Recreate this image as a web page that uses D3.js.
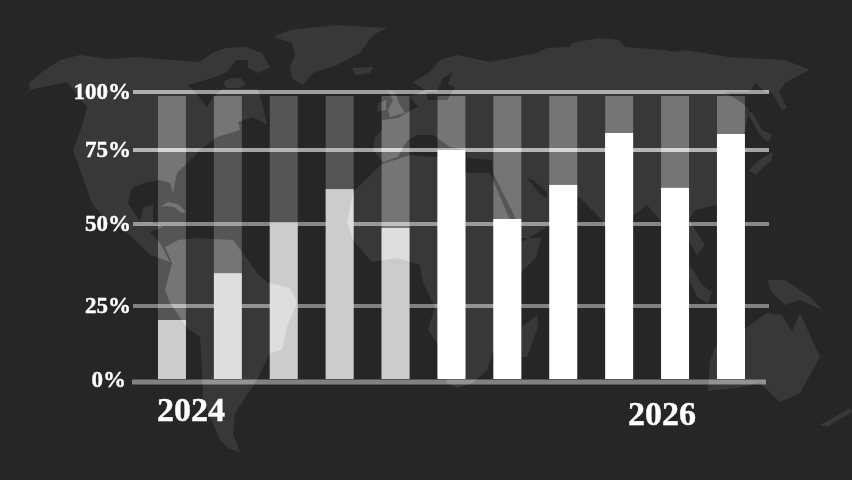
<!DOCTYPE html>
<html><head><meta charset="utf-8">
<script src="https://cdn.jsdelivr.net/npm/d3@7"></script>
<style>html,body{margin:0;background:#262626}svg{display:block}</style></head>
<body><svg id="c" width="852" height="480"></svg>
<script>
const categories = ["P1","P2","P3","P4","P5","P6","P7","P8","P9","P10","P11"];
const values = [20.4,35,50.5,61.8,48.8,75,51.7,63.2,82.3,62.2,81.9];
const tickValues = [0,25,50,75,100];
const yearLabels = ["2024","2026"];

// decorative world map backdrop
const northAmerica = [[22,98],[30,90],[29,83],[42,72],[60,60],[80,55],[110,59],[135,57],[170,60],[200,62],[212,53],[225,48],[245,47],[262,53],[270,67],[258,73],[248,68],[248,60],[236,60],[227,72],[213,78],[188,85],[196,93],[207,107],[213,97],[222,89],[258,89],[263,107],[267,125],[253,117],[238,122],[240,130],[217,137],[200,150],[177,173],[173,193],[170,183],[160,180],[147,182],[132,188],[128,203],[140,222],[143,207],[153,205],[153,223],[163,227],[150,232],[160,243],[170,262],[150,255],[130,235],[113,223],[100,213],[92,203],[80,170],[73,150],[83,123],[87,107],[67,82],[29,90]];
const southampton = [[223,82],[230,78],[240,78],[246,84],[240,88],[226,88]];
const cuba = [[160,207],[168,202],[178,204],[186,212],[182,213],[174,207],[166,206]];
const southAmerica = [[172,263],[165,247],[178,240],[197,238],[233,240],[248,260],[257,273],[267,282],[290,288],[297,302],[287,327],[282,350],[270,353],[257,380],[235,413],[233,433],[240,453],[228,448],[220,440],[210,417],[203,397],[202,373],[200,337],[187,328],[170,303],[165,290]];
const greenland = [[273,37],[290,30],[337,25],[387,28],[373,35],[360,53],[337,65],[313,73],[303,85],[292,78],[290,67],[295,55],[292,43]];
const iceland = [[352,68],[373,67],[370,73],[355,75]];
const britain = [[387,90],[395,92],[399,103],[405,113],[390,117],[388,110],[393,100]];
const ireland = [[378,103],[386,100],[386,110],[377,112]];
const eurasia = [[413,82],[430,72],[440,60],[457,55],[490,62],[537,53],[547,48],[570,47],[572,43],[599,38],[619,40],[625,47],[665,50],[675,52],[685,50],[729,57],[785,60],[810,70],[799,75],[785,83],[779,92],[787,108],[782,110],[772,93],[765,92],[755,83],[750,92],[725,92],[745,105],[749,110],[745,130],[735,170],[717,205],[695,210],[689,220],[705,245],[697,255],[685,235],[672,222],[660,220],[647,205],[632,217],[617,250],[602,220],[577,195],[560,215],[547,227],[522,242],[515,217],[493,173],[492,160],[467,158],[467,150],[450,147],[433,135],[417,135],[408,140],[403,147],[398,157],[383,162],[373,150],[375,137],[382,130],[382,120],[398,118],[408,112],[418,107],[410,97],[425,90]];
const baltic = [[426,92],[437,92],[443,78],[453,72],[448,84],[455,88],[447,100],[428,100]];
const persianGulf = [[527,178],[533,180],[547,192],[547,198],[540,194]];
const africa = [[382,164],[398,159],[410,155],[437,157],[467,173],[490,173],[510,220],[521,238],[541,238],[536,258],[521,272],[493,353],[487,370],[473,383],[457,388],[447,383],[440,347],[428,330],[435,307],[423,283],[420,265],[397,258],[372,262],[353,240],[347,223],[353,192]];
const madagascar = [[522,327],[537,315],[538,327],[527,357],[522,357]];
const malaya = [[686,262],[693,270],[702,285],[712,292],[708,303],[697,297],[690,282]];
const newGuinea = [[768,280],[785,280],[810,297],[822,310],[800,300],[785,305],[770,290]];
const australia = [[743,330],[767,313],[782,315],[792,332],[800,313],[820,357],[800,393],[780,402],[767,390],[760,383],[737,388],[708,391],[710,360],[715,348]];
const newZealand = [[820,425],[850,408],[852,412],[827,427]];
const japan = [[749,170],[759,160],[772,152],[772,160],[755,175]];
const honshu = [[747,112],[752,112],[762,130],[772,135],[768,142],[760,135]];
const landShapes = [northAmerica,southampton,cuba,southAmerica,greenland,iceland,britain,ireland,eurasia,africa,madagascar,malaya,newGuinea,australia,newZealand,japan,honshu];
const landHoles = [baltic,persianGulf];

const svg = d3.select("#c");
const y = d3.scaleLinear().domain(tickValues).range([382,306,224,150,92]);
const x = d3.scaleBand().domain(categories).range([144,144+55.9*11]).paddingInner(.5).paddingOuter(.25);
const gridOpacity = new Map([[0,.42],[25,.42],[50,.45],[75,.58],[100,.55]]);

svg.append("rect").attr("width",852).attr("height",480).attr("fill","#262626");

svg.selectAll(".track").data(categories).join("rect").attr("class","track")
  .attr("x",d=>x(d)).attr("width",x.bandwidth())
  .attr("y",y(100)+4).attr("height",y(0)-3-(y(100)+4)).attr("fill","#555");

svg.selectAll(".grid").data(tickValues).join("rect").attr("class","grid")
  .attr("x",d=>d===0?132:133).attr("width",d=>d===0?634:636)
  .attr("y",d=>y(d)-(d===0?2.5:2)).attr("height",d=>d===0?5:4)
  .attr("fill","#fff").attr("opacity",d=>gridOpacity.get(d));

svg.selectAll(".bar").data(values).join("rect").attr("class","bar")
  .attr("x",(d,i)=>x(categories[i])).attr("width",x.bandwidth())
  .attr("y",d=>y(d)).attr("height",d=>y(0)-3-y(d))
  .attr("fill",(d,i)=>i<5?"#ccc":"#fff");

const line = d3.line();
const landPath = landShapes.concat(landHoles).map(s=>line(s)+"Z").join("");
svg.append("path").attr("d",landPath).attr("fill","#121212").attr("fill-rule","evenodd")
  .style("mix-blend-mode","plus-lighter");

// the map shows more strongly through the empty part of each track
svg.append("clipPath").attr("id","tracks").selectAll("rect").data(values).join("rect")
  .attr("x",(d,i)=>x(categories[i])).attr("width",x.bandwidth())
  .attr("y",y(100)+4).attr("height",d=>y(d)-(y(100)+4));
svg.append("path").attr("d",landPath).attr("fill","#0e0e0e").attr("fill-rule","evenodd")
  .attr("clip-path","url(#tracks)").style("mix-blend-mode","plus-lighter");

const axis = d3.axisLeft(y).tickValues(tickValues).tickSize(0).tickPadding(0).tickFormat(d=>d+"%");
const ag = svg.append("g").attr("transform","translate(131,0)").call(axis);
ag.select(".domain").remove();
ag.selectAll("text").attr("fill","#fff").attr("stroke","#fff").attr("stroke-width",.4).attr("dy",null).attr("y",6)
  .attr("x",d=>d===0?-5:0).attr("font-family","Liberation Serif").attr("font-weight","bold").attr("font-size",23)
  .filter(d=>d===0).attr("y",4);

svg.selectAll(".year").data(yearLabels).join("text").attr("class","year")
  .text(d=>d).attr("fill","#fff").attr("stroke","#fff").attr("stroke-width",.4).attr("font-family","Liberation Serif").attr("font-weight","bold").attr("font-size",34)
  .attr("text-anchor","middle")
  .attr("x",(d,i)=>i===0?x("P1")+x.bandwidth()/2+19:x("P10")+x.bandwidth()/2-13)
  .attr("y",(d,i)=>i===0?421:425);
</script></body></html>
